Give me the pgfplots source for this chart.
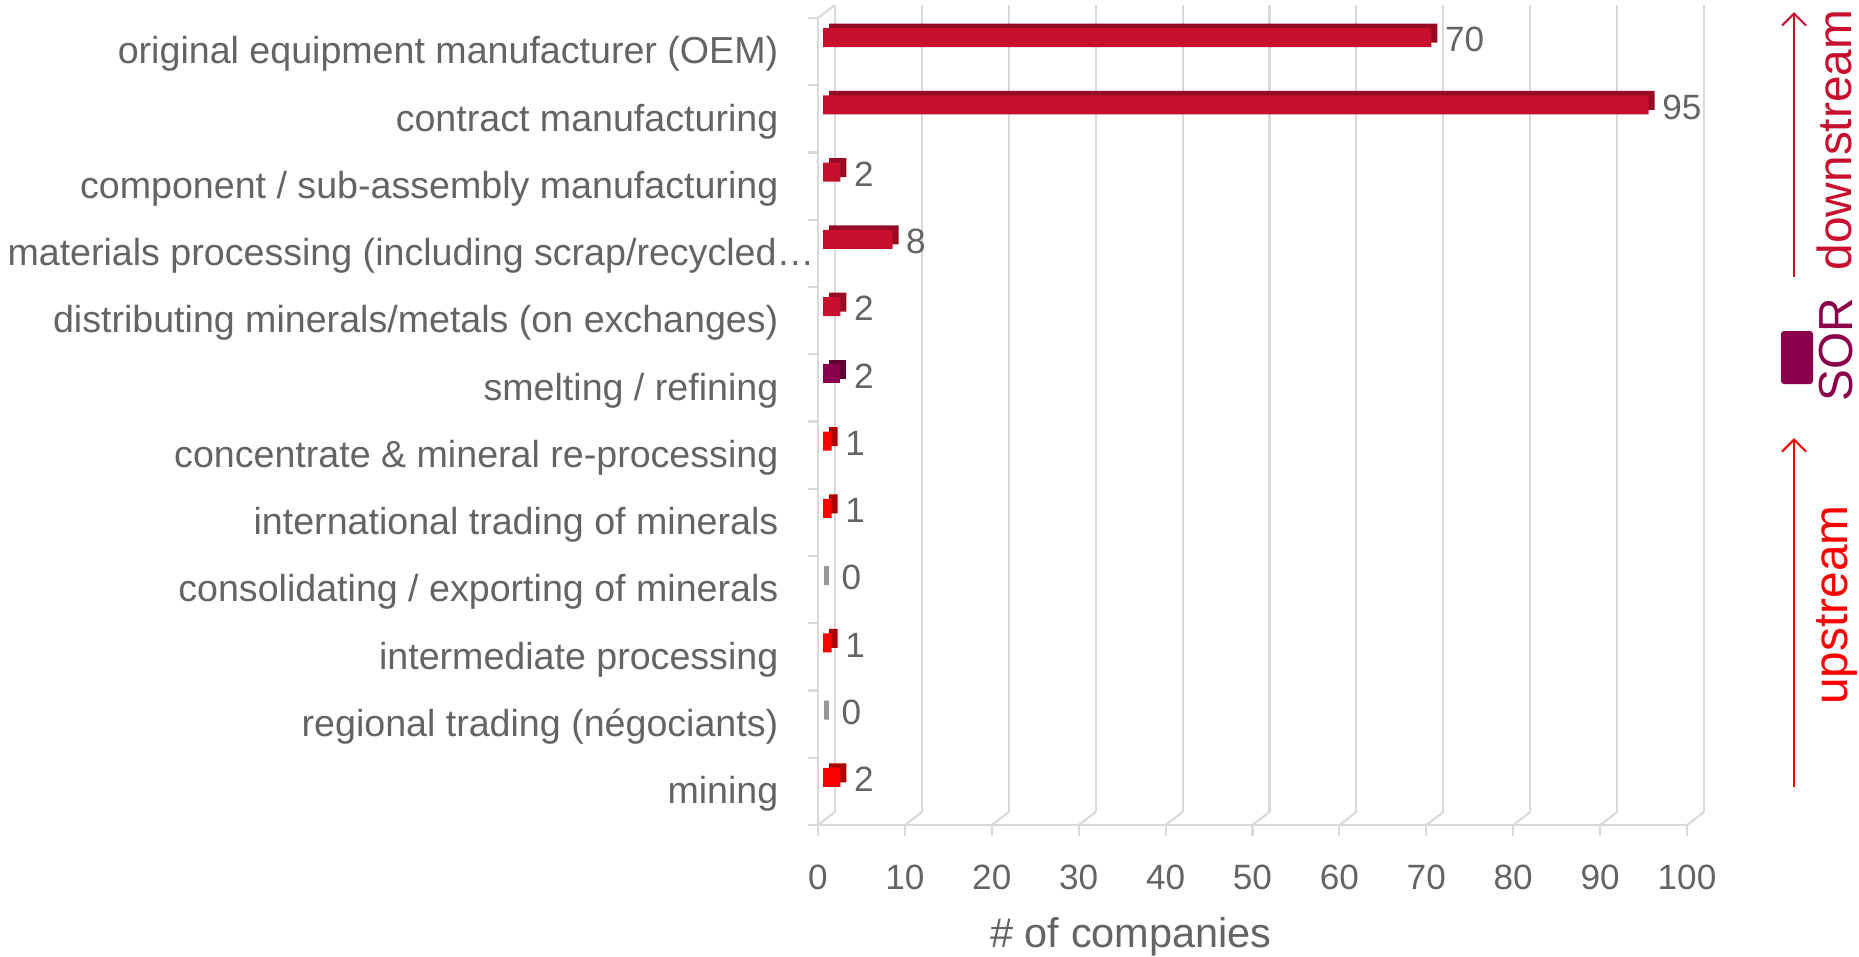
\documentclass[border=0pt]{standalone}
\usepackage{fontspec}
\setmainfont{Liberation Sans}
\usepackage{pgfplots}
\pgfplotsset{compat=1.18}
\usetikzlibrary{arrows.meta}
\definecolor{crimson}{RGB}{200,16,46}
\definecolor{crimsondk}{RGB}{150,12,35}
\definecolor{sorp}{RGB}{139,0,75}
\definecolor{sorpdk}{RGB}{95,0,52}
\definecolor{upred}{RGB}{255,0,0}
\definecolor{upreddk}{RGB}{175,0,0}
\definecolor{zerogray}{RGB}{150,150,150}
\definecolor{gridgray}{RGB}{217,217,217}
\definecolor{txtgray}{RGB}{100,100,100}

\pgfplotsset{
  base/.style={scale only axis, width=86.9mm, height=80.7mm,
    xmin=0, xmax=100, ymin=-0.5, ymax=11.5, y dir=reverse, clip=false},
  bars/.style={xbar, bar width=1.9mm, draw=none},
}

\begin{document}
\begin{tikzpicture}
% page in pixel units, origin top left
\begin{scope}[x=0.1mm, y=-0.1mm]
\coordinate (backO) at (835,812);
\coordinate (frontO) at (818,825);
\coordinate (darkO) at (829,806.5);
\coordinate (barO) at (823,811);
\foreach \i in {0,...,10}
  \draw[gridgray, line width=0.6pt] ({818+86.9*\i},825) -- ++(17,-13);
\draw[gridgray, line width=0.6pt] (818,18) -- ++(17,-13);
\end{scope}

% back wall with grid
\begin{axis}[base, at={(backO)}, anchor=south west,
  axis line style={draw=none}, tick style={draw=none},
  xtick={0,10,...,100}, xticklabels={}, ytick=\empty,
  xmajorgrids, grid style={gridgray, line width=0.6pt}]
\end{axis}

% front axis: lines, ticks, labels
\begin{axis}[base, at={(frontO)}, anchor=south west,
  axis x line*=bottom, axis y line*=left,
  axis line style={gridgray, line width=0.6pt, -},
  tick align=outside, major tick length=1.1mm, minor tick length=1mm,
  tick style={gridgray, line width=0.6pt},
  xtick={0,10,...,100},
  ytick={0,...,11}, minor ytick={-0.5,0.5,...,11.5},
  major y tick style={draw=none},
  /pgf/number format/assume math mode=true,
  xticklabel style={font=\fontsize{10}{12}\selectfont, text=txtgray, inner sep=0, anchor=north, yshift=-2.8mm},
  yticklabel style={font=\fontsize{10.7}{12}\selectfont, text=txtgray, inner sep=0, anchor=east, xshift=-2.8mm, yshift=-0.25mm},
  yticklabels={original equipment manufacturer (OEM),
    contract manufacturing,
    component / sub-assembly manufacturing,
    materials processing (including scrap/recycled…\kern-3.6mm,
    distributing minerals/metals (on exchanges),
    smelting / refining,
    concentrate \& mineral re-processing,
    international trading of minerals,
    consolidating / exporting of minerals,
    intermediate processing,
    regional trading (négociants),
    mining}]
\end{axis}

% dark top/side faces of the bars
\begin{axis}[base, hide axis, at={(darkO)}, anchor=south west]
  \addplot[bars, fill=crimsondk] coordinates {(70,0) (95,1) (2,2) (8,3) (2,4)};
  \addplot[bars, fill=sorpdk] coordinates {(2,5)};
  \addplot[bars, fill=upreddk] coordinates {(1,6) (1,7) (1,9) (2,11)};
\end{axis}

% front faces of the bars
\begin{axis}[base, hide axis, at={(barO)}, anchor=south west,
  /pgf/number format/assume math mode=true,
  nodes near coords, nodes near coords align={horizontal}, point meta=x,
  every node near coord/.append style={font=\fontsize{10}{12}\selectfont, text=txtgray,
    inner sep=0, anchor=west, xshift=1.3mm, yshift=-0.2mm}]
  \addplot[bars, fill=crimson] coordinates {(70,0) (95,1) (2,2) (8,3) (2,4)};
  \addplot[bars, fill=sorp] coordinates {(2,5)};
  \addplot[bars, fill=upred] coordinates {(1,6) (1,7) (1,9) (2,11)};
  \addplot[bars, fill=zerogray, draw=zerogray, line width=0.5mm, xshift=0.3mm] coordinates {(0,8) (0,10)};
\end{axis}

\begin{scope}[x=0.1mm, y=-0.1mm]
% x label
\node[font=\fontsize{11.8}{14}\selectfont, text=txtgray, anchor=base] at (1131,947) {\# of companies};
% stream annotations
\draw[crimson, line width=0.6pt, -{Straight Barb[length=1.2mm, width=2.4mm]}] (1794,277) -- (1794,12);
\draw[upred, line width=0.6pt, -{Straight Barb[length=1.2mm, width=2.4mm]}] (1794,787) -- (1794,438);
\fill[sorp, rounded corners=0.3mm] (1781,331) rectangle (1813,384);
\node[font=\fontsize{13.6}{16}\selectfont, text=crimson, rotate=90, anchor=base, inner sep=0] at (1851,140) {downstream};
\node[font=\fontsize{13.6}{16}\selectfont, text=sorp, rotate=90, anchor=base, inner sep=0] at (1852,350) {SOR};
\node[font=\fontsize{13.6}{16}\selectfont, text=upred, rotate=90, anchor=base, inner sep=0] at (1847,605) {upstream};
% the page is exactly the reference frame
\pgfresetboundingbox
\path[use as bounding box] (0,0) rectangle (1859,956);
\end{scope}
\end{tikzpicture}
\end{document}
